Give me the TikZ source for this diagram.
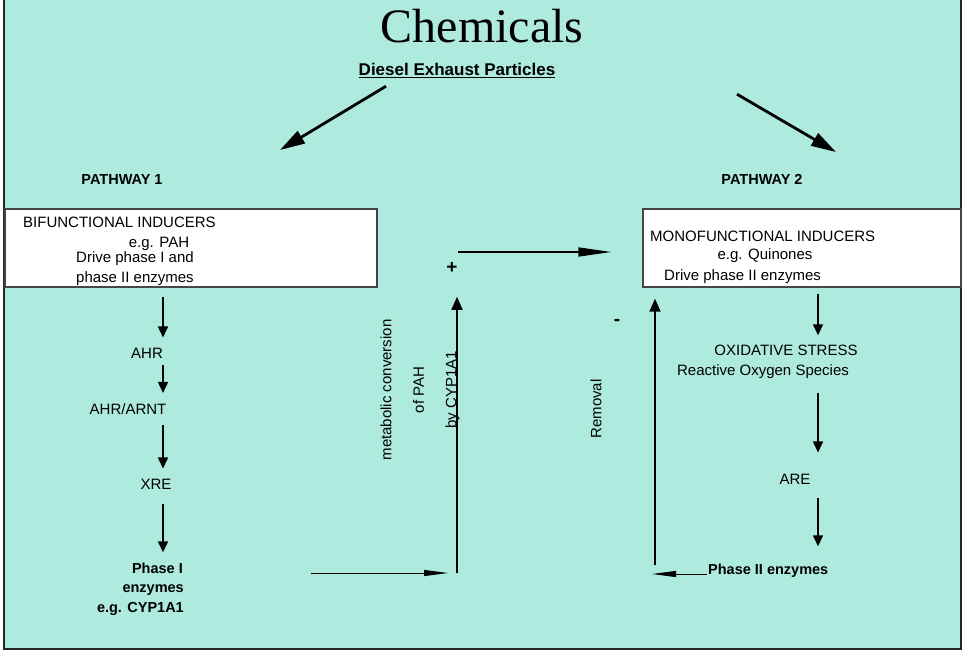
\documentclass[tikz,border=0pt]{standalone}
\usepackage{fontspec}
\setmainfont{Liberation Sans}
\newfontfamily\titlefont{Liberation Serif}
\usetikzlibrary{arrows.meta,positioning}
\definecolor{slidebg}{RGB}{174,234,221}
\definecolor{boxline}{RGB}{70,70,70}
\newcommand{\thickul}[1]{\setbox0\hbox{#1}\rlap{\rule[-3pt]{\wd0}{1.3pt}}\box0}

\begin{document}
\begin{tikzpicture}[
      x=1pt, y=-1pt,
      nodes={font=\fontsize{15}{18}\selectfont, inner sep=1pt},
      head/.style={font=\fontsize{14.5}{19.5}\selectfont\bfseries},
      sign/.style={font=\fontsize{19}{20}\selectfont\bfseries},
      inducer/.style={draw=boxline, line width=1.4pt, fill=white,
        minimum height=78pt, inner sep=0pt},
      sideways/.style={rotate=90},
      big/.style={-{Triangle[length=25pt,width=14pt]}, line width=2.8pt},
      down/.style={-{Triangle[length=11pt,width=10pt]}, line width=1.6pt},
      up/.style={-{Triangle[length=13pt,width=11pt]}, line width=1.6pt},
      feed/.style={-{Triangle[length=24pt,width=6pt]}, line width=1pt},
      feedin/.style={-{Triangle[length=33pt,width=9pt]}, line width=1.6pt},
      >=stealth
      ]

  \useasboundingbox (0,0) rectangle (965,656);
  \fill[slidebg] (4,-5) rectangle (961,649);
  \draw[line width=2pt, black!85] (4,-5) -- (4,649) -- (961,649) -- (961,-5);

  % Define nodes
  \node[font=\titlefont\fontsize{48}{50}\selectfont, anchor=base]
    (chem) at (482,42) {Chemicals};
  \node[font=\fontsize{17}{20}\selectfont\bfseries, anchor=base]
    (dep) at (457,75) {\thickul{Diesel Exhaust Particles}};
  \node[head, anchor=base] (path1) at (122,184) {PATHWAY 1};
  \node[head, anchor=base] (path2) at (762,184) {PATHWAY 2};
  \coordinate (p1tip) at (280,150);
  \coordinate (p2tip) at (836,152);

  % Pathway 1
  \node[inducer, minimum width=372pt] (bif) at (191,248) {};
  \node[anchor=base west] (bif-a) at (22,227) {BIFUNCTIONAL INDUCERS};
  \node[anchor=base] (bif-b) at (159,247) {e.g. PAH};
  \node[anchor=base west] (bif-c) at (75,262) {Drive phase I and};
  \node[anchor=base west] (bif-d) at (75,282) {phase II enzymes};
  \coordinate (col1) at (163,0);
  \node[anchor=base] (ahr) at (147,358) {AHR};
  \node[anchor=base] (arnt) at (128,414) {AHR/ARNT};
  \node[anchor=base] (xre) at (156,489) {XRE};
  \node[head, anchor=base east] (ph1a) at (184,573) {Phase I};
  \node[head, anchor=base east] (ph1b) at (185,592) {enzymes};
  \node[head, anchor=base east] (ph1c) at (185,612) {e.g. CYP1A1};

  % Pathway 2
  \node[inducer, minimum width=318pt] (mono) at (802,248) {};
  \node[anchor=base west] (mono-a) at (649,241) {MONOFUNCTIONAL INDUCERS};
  \node[anchor=base] (mono-b) at (765,259) {e.g. Quinones};
  \node[anchor=base west] (mono-c) at (663,280) {Drive phase II enzymes};
  \coordinate (col2) at (818,0);
  \node[anchor=base] (oxi) at (786,355) {OXIDATIVE STRESS};
  \node[anchor=base] (ros) at (763,375) {Reactive Oxygen Species};
  \node[anchor=base] (are) at (795,484) {ARE};
  \node[head, anchor=base west] (ph2) at (707,574) {Phase II enzymes};

  % Cross links
  \coordinate (cyp-bend) at (457,573);
  \coordinate (cyp-top) at (458,252);
  \coordinate (rem-bend) at (655,565);
  \node[sign] (plus) at (452,268) {+};
  \node[sign] (minus) at (617,322) {-};
  \node[sideways, align=center, font=\fontsize{15}{32.5}\selectfont]
    (metab) at (420,390) {metabolic conversion\\of PAH\\by CYP1A1};
  \node[sideways] (removal) at (596,409) {Removal};

  % Connect the nodes
  \draw[big] ([xshift=-71pt,yshift=-7pt]dep.south) -- (p1tip);
  \draw[big] ([xshift=280pt,yshift=-15pt]dep.south) -- (p2tip);

  \draw[down, shorten <=9pt, shorten >=9pt] (bif.south -| col1) -- (ahr.north -| col1);
  \draw[down, shorten <=6pt, shorten >=9pt] (ahr.south -| col1) -- (arnt.north -| col1);
  \draw[down, shorten <=10pt, shorten >=9pt] (arnt.south -| col1) -- (xre.north -| col1);
  \draw[down, shorten <=14pt, shorten >=9pt] (xre.south -| col1) -- (ph1a.north -| col1);

  \draw[down, shorten <=6pt, shorten >=8pt] (mono.south -| col2) -- (oxi.north -| col2);
  \draw[down, shorten <=14pt, shorten >=20pt] (ros.south -| col2) -- (are.north -| col2);
  \draw[down, shorten <=13pt, shorten >=16pt] (are.south -| col2) -- (ph2.north -| col2);

  \draw[feed, shorten <=127pt, shorten >=9pt] (ph1a.base east) -- (ph1a.base east -| cyp-bend);
  \draw[up, shorten >=22pt] (cyp-bend) -- (cyp-bend |- plus.south);
  \draw[feedin, shorten >=31pt] (cyp-top) -- (cyp-top -| mono.west);

  \draw[feed, shorten >=-3pt] (ph2.base west) -- (ph2.base west -| rem-bend);
  \draw[up, shorten >=11pt] (rem-bend) -- (rem-bend |- mono.south);

\end{tikzpicture}
\end{document}
